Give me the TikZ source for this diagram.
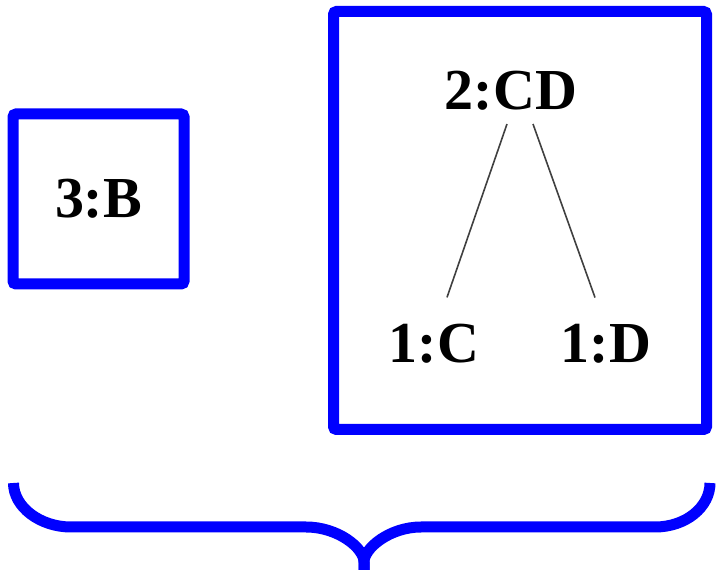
\documentclass[tikz,border=0pt]{standalone}
\usepackage{fontspec}
\setmainfont{Liberation Serif}
\definecolor{frameblue}{RGB}{0,0,255}
\begin{document}
\begin{tikzpicture}[x=1pt,y=1pt,
  lbl/.style={font=\fontsize{58}{60}\selectfont\bfseries, inner sep=0pt, text=black},
  frame/.style={draw=frameblue, line width=11pt, rounded corners=3pt, inner sep=0pt},
  edge/.style={draw=black!75, line width=1.6pt},
  bracestyle/.style={draw=frameblue, line width=11pt}]
\useasboundingbox (0,0) rectangle (716,576);
% left box with its label
\node[frame, lbl, minimum width=171pt, minimum height=170pt] (b) at (98.5,377) {3:B};
% right box
\node[frame, minimum width=373pt, minimum height=418pt] (rbox) at (520,355.5) {};
% tree
\node[lbl, anchor=base] (cd) at (511,466) {2:CD};
\node[lbl, anchor=base] (c) at (434,213) {1:C};
\node[lbl, anchor=base] (d) at (606,213) {1:D};
\draw[edge] ([shift={(-4,-13)}]cd.south) -- ([shift={(13,27)}]c.north);
\draw[edge] ([shift={(22,-13)}]cd.south) -- ([shift={(-11,27)}]d.north);
% brace
\coordinate (bl) at (13.5,93);
\coordinate (br) at (710,93);
\coordinate (tip) at (364,6);
\draw[bracestyle] (bl) .. controls (13.5,69) and (40,49) .. (71,49) -- (306,49)
  .. controls (338,49) and (364,28) .. (364,14) -- (tip);
\draw[bracestyle] (br) .. controls (710,69) and (686,49) .. (655,49) -- (421,49)
  .. controls (390,49) and (364,28) .. (364,14) -- (tip);
\end{tikzpicture}
\end{document}
